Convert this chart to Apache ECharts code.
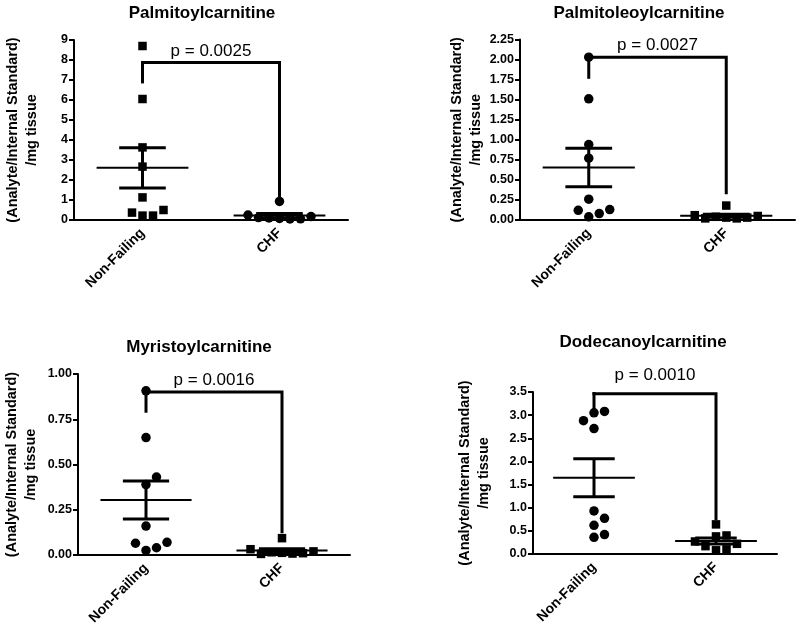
<!DOCTYPE html>
<html><head><meta charset="utf-8">
<script src="https://cdn.jsdelivr.net/npm/echarts@6/dist/echarts.min.js"></script>
<style>html,body{margin:0;padding:0;background:#fff}#c{width:800px;height:632px}</style>
</head><body><div id="c"></div>
<script>
// ---------------- DATA ----------------
const categories = ['Non-Failing', 'CHF'];
const titles = ['Palmitoylcarnitine', 'Palmitoleoylcarnitine', 'Myristoylcarnitine', 'Dodecanoylcarnitine'];
const pLabels = ['p = 0.0025', 'p = 0.0027', 'p = 0.0016', 'p = 0.0010'];
const yAxisName = '(Analyte/Internal Standard)\n/mg tissue';
const yMax = [9, 2.25, 1, 3.5];
const yInterval = [1, 0.25, 0.25, 0.5];
const yDecimals = [0, 2, 2, 1];

const palmitoylNF = [8.7, 6.05, 3.63, 2.67, 1.13, 0.22, 0.22, 0.37, 0.5];
const palmitoylCHF = [0.93, 0.08, 0.05, 0.1, 0.06, 0.12, 0.17, 0.25];
const palmitoleoylNF = [2.03, 1.51, 0.94, 0.77, 0.26, 0.04, 0.08, 0.12, 0.13];
const palmitoleoylCHF = [0.18, 0.03, 0.02, 0.04, 0.03, 0.02, 0.05, 0.06];
const myristoylNF = [0.907, 0.649, 0.389, 0.431, 0.16, 0.025, 0.04, 0.065, 0.07];
const myristoylCHF = [0.093, 0.012, 0.008, 0.015, 0.01, 0.006, 0.02, 0.032];
const dodecanoylNF = [3.05, 3.08, 2.88, 2.71, 0.93, 0.77, 0.62, 0.36, 0.42];
const dodecanoylCHF = [0.64, 0.38, 0.08, 0.10, 0.40, 0.17, 0.22, 0.27];

// significance brackets (data units)
const bracketTop = [7.88, 2.03, 0.90, 3.46];
const bracketLeftTop = [7.88, 2.03, 0.90, 3.5];
const bracketLeftEnd = [6.83, 1.76, 0.786, 3.12];
const bracketRightEnd = [1.0, 0.32, 0.12, 0.73];

// ---------------- LAYOUT / STYLE ----------------
const FONT = '"Liberation Sans", Arial, sans-serif';
const grids = [
  {left: 74, top: 40, width: 274, height: 180},
  {left: 520, top: 39.5, width: 275, height: 180.5},
  {left: 78, top: 374, width: 272, height: 181},
  {left: 533, top: 392, width: 244, height: 162}
];
const titlePos = [[202, 13], [639, 13], [199, 347], [643, 342]];
const nameGaps = [33, 31, 38, 40];
const pOffsets = [11, 12, 12, 19];
const nfSymbols = ['rect', 'circle', 'circle', 'circle'];
const chfSymbols = ['circle', 'rect', 'rect', 'rect'];
const STEP = 10.5, THRESH = 10.5;

const groups = [
  [palmitoylNF, palmitoylCHF],
  [palmitoleoylNF, palmitoleoylCHF],
  [myristoylNF, myristoylCHF],
  [dodecanoylNF, dodecanoylCHF]
];

function swarm(values, pxPerUnit) {
  const placed = [];
  const cands = [0];
  for (let k = 1; k < 12; k++) cands.push(k, -k);
  return values.map(v => {
    const y = v * pxPerUnit;
    let col = 0;
    for (const c of cands) {
      if (!placed.some(p => p.col === c && Math.abs(p.y - y) < THRESH)) { col = c; break; }
    }
    placed.push({col, y});
    return col * STEP;
  });
}
function mean(a) { return a.reduce((s, v) => s + v, 0) / a.length; }
function sem(a) {
  const m = mean(a);
  const v = a.reduce((s, x) => s + (x - m) * (x - m), 0) / (a.length - 1);
  return Math.sqrt(v) / Math.sqrt(a.length);
}

const chart = echarts.init(document.getElementById('c'), null, {renderer: 'canvas'});
const xAxes = [], yAxes = [], series = [], graphics = [];

groups.forEach((grp, i) => {
  xAxes.push({
    type: 'category', gridIndex: i, data: categories, boundaryGap: true,
    axisLine: {lineStyle: {color: '#000', width: 2}},
    axisTick: {alignWithLabel: true, length: 6, lineStyle: {color: '#000', width: 2}},
    axisLabel: {rotate: 45, fontWeight: 'bold', fontSize: 14, color: '#000', margin: 11, fontFamily: FONT},
    splitLine: {show: false}
  });
  yAxes.push({
    type: 'value', gridIndex: i, min: 0, max: yMax[i], interval: yInterval[i],
    axisLine: {show: true, lineStyle: {color: '#000', width: 2}},
    axisTick: {show: true, length: 5, lineStyle: {color: '#000', width: 2}},
    axisLabel: {fontWeight: 'bold', fontSize: 12.5, color: '#000', margin: 6, fontFamily: FONT,
      formatter: v => v.toFixed(yDecimals[i])},
    splitLine: {show: false},
    name: yAxisName, nameLocation: 'middle', nameGap: nameGaps[i],
    nameTextStyle: {fontWeight: 'bold', fontSize: 14.5, lineHeight: 19, color: '#000', fontFamily: FONT}
  });
  const pxPerUnit = grids[i].height / yMax[i];
  grp.forEach((vals, ci) => {
    const offs = swarm(vals, pxPerUnit);
    const sym = ci === 0 ? nfSymbols[i] : chfSymbols[i];
    series.push({
      type: 'scatter', xAxisIndex: i, yAxisIndex: i, clip: false, z: 2,
      symbol: sym, symbolSize: sym === 'circle' ? 9.5 : 8.5,
      itemStyle: {color: '#000', opacity: 1},
      emphasis: {disabled: true},
      data: vals.map((v, k) => ({value: [ci, v], symbolOffset: [offs[k], 0]}))
    });
  });
  // mean +/- SEM
  series.push({
    type: 'custom', xAxisIndex: i, yAxisIndex: i, clip: false, z: 3,
    encode: {x: 0, y: 1},
    data: grp.map((vals, ci) => [ci, mean(vals), sem(vals)]),
    renderItem: (params, api) => {
      const c = api.value(0), m = api.value(1), s = api.value(2);
      const band = api.size([1, 0])[0];
      const pm = api.coord([c, m]), pu = api.coord([c, m + s]), pl = api.coord([c, m - s]);
      const hw = band * 0.335, cw = band * 0.17;
      const st = w => ({stroke: '#000', lineWidth: w});
      return {type: 'group', children: [
        {type: 'line', shape: {x1: pm[0] - hw, y1: pm[1], x2: pm[0] + hw, y2: pm[1]}, style: st(2)},
        {type: 'line', shape: {x1: pu[0] - cw, y1: pu[1], x2: pu[0] + cw, y2: pu[1]}, style: st(3)},
        {type: 'line', shape: {x1: pl[0] - cw, y1: pl[1], x2: pl[0] + cw, y2: pl[1]}, style: st(3)},
        {type: 'line', shape: {x1: pu[0], y1: pu[1], x2: pl[0], y2: pl[1]}, style: st(3)}
      ]};
    }
  });
  // significance bracket
  series.push({
    type: 'custom', xAxisIndex: i, yAxisIndex: i, clip: false, z: 3,
    encode: {x: 0, y: 1},
    data: [[0, bracketTop[i], bracketLeftTop[i], bracketLeftEnd[i], bracketRightEnd[i]]],
    renderItem: (params, api) => {
      const top = api.value(1), lt = api.value(2), le = api.value(3), re = api.value(4);
      const a = api.coord([0, top]), b = api.coord([1, top]);
      const l1 = api.coord([0, lt]), l2 = api.coord([0, le]), r2 = api.coord([1, re]);
      return {type: 'group', children: [
        {type: 'line', shape: {x1: l1[0], y1: l1[1], x2: l2[0], y2: l2[1]}, style: {stroke: '#000', lineWidth: 3}},
        {type: 'polyline', shape: {points: [[a[0] - 1.5, a[1]], [b[0], b[1]], [r2[0], r2[1]]]},
          style: {stroke: '#000', lineWidth: 3, fill: null, lineJoin: 'miter'}},
        {type: 'text', style: {text: pLabels[i], x: (a[0] + b[0]) / 2, y: a[1] - pOffsets[i],
          align: 'center', verticalAlign: 'middle', fontSize: 17, fontFamily: FONT, fill: '#000'}}
      ]};
    }
  });
  graphics.push({type: 'text', x: titlePos[i][0], y: titlePos[i][1],
    style: {text: titles[i], align: 'center', verticalAlign: 'middle', fontSize: 17, fontWeight: 'bold',
      fontFamily: FONT, fill: '#000'}});
});

chart.setOption({
  animation: false,
  backgroundColor: '#fff',
  grid: grids,
  xAxis: xAxes,
  yAxis: yAxes,
  series: series,
  graphic: graphics
});
</script>
</body></html>
